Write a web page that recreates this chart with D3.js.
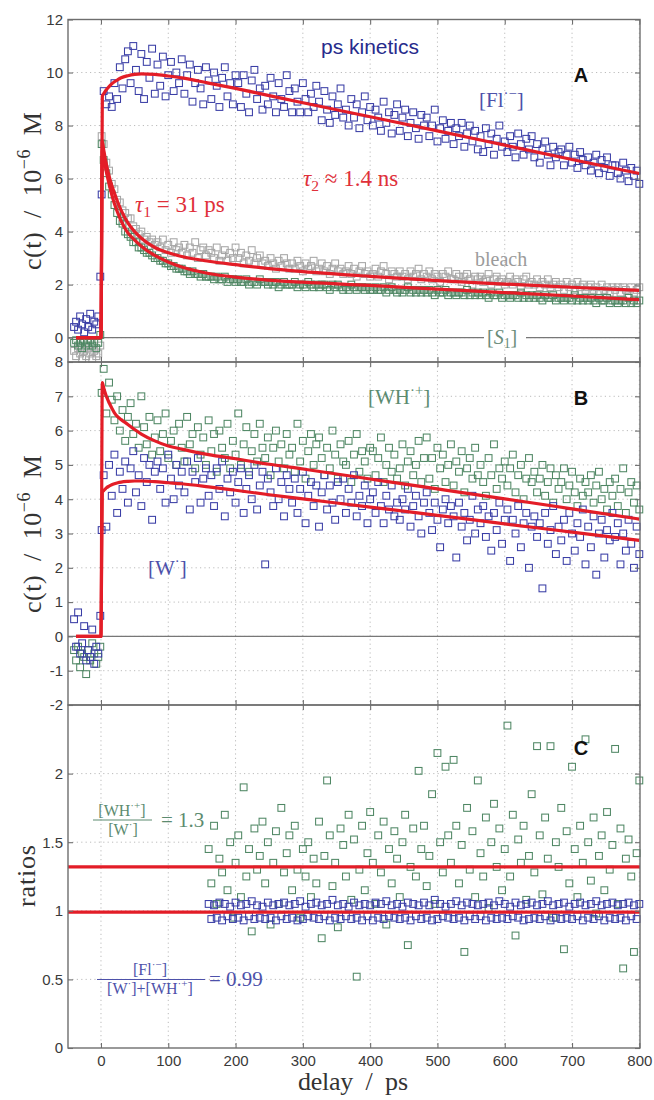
<!DOCTYPE html>
<html><head><meta charset="utf-8">
<script src="https://cdn.jsdelivr.net/npm/d3@7"></script>
<style>body{margin:0;background:#fff} text{white-space:pre}</style>
</head><body><svg id="c" width="654" height="1100" xmlns="http://www.w3.org/2000/svg"></svg>
<script>
// ---------------- data ----------------
const delays = [-40,-37,-34,-31,-28,-25,-22,-19,-16,-13,-10,-7,-4,-1,1,
4,8,12,16,20,24,28,32,36,40,
44,48,52,56,60,64,68,72,76,80,
84,88,92,96,100,104,108,112,116,120,
124,128,132,136,140,144,148,152,156,160,
164,168,172,176,180,184,188,192,196,200,
204,208,212,216,220,224,228,232,236,240,
244,248,252,256,260,264,268,272,276,280,
284,288,292,296,300,304,308,312,316,320,
324,328,332,336,340,344,348,352,356,360,
364,368,372,376,380,384,388,392,396,400,
404,408,412,416,420,424,428,432,436,440,
444,448,452,456,460,464,468,472,476,480,
484,488,492,496,500,504,508,512,516,520,
524,528,532,536,540,544,548,552,556,560,
564,568,572,576,580,584,588,592,596,600,
604,608,612,616,620,624,628,632,636,640,
644,648,652,656,660,664,668,672,676,680,
684,688,692,696,700,704,708,712,716,720,
724,728,732,736,740,744,748,752,756,760,
764,768,772,776,780,784,788,792,796,800];

// Panel A: [Fl.-] (blue), bleach (gray), [S1] (green)
const flData = [0.4,0.6,0.3,0.8,0.5,0.2,0.7,0.4,0.9,0.3,0.6,0.5,0.8,2.3,5.4,
9.3,8.8,9.1,8.7,9.6,9.0,10.2,9.4,10.5,10.8,
9.6,11.0,10.1,9.3,10.7,9.0,10.4,9.8,10.9,9.2,
10.3,9.5,10.6,9.1,9.9,10.4,9.3,10.0,9.6,10.5,
9.2,9.9,10.3,8.9,9.6,10.1,9.4,8.8,10.2,9.7,
9.0,10.0,9.5,8.7,9.8,10.2,9.1,9.6,8.8,9.9,
9.6,8.7,9.9,9.2,8.5,9.7,10.1,9.0,9.4,8.6,
9.5,8.8,9.8,9.1,8.5,9.6,9.0,8.7,9.9,9.3,
8.5,9.4,8.9,8.5,9.6,9.0,8.5,9.2,8.7,9.5,
8.9,8.2,9.3,8.6,8.1,9.1,8.4,8.8,9.4,8.3,
8.6,8.0,9.0,8.3,8.8,7.9,8.5,9.1,8.2,8.7,
8.0,8.6,8.3,7.8,8.9,8.1,8.5,7.7,8.4,8.8,
7.8,8.3,8.6,7.6,8.1,8.5,7.9,7.5,8.4,8.0,
8.3,7.6,8.0,8.6,7.4,7.9,8.2,7.5,7.8,8.1,
7.3,7.9,7.6,8.1,7.2,7.7,8.0,7.4,7.8,7.1,
7.6,7.0,7.9,7.3,7.7,6.9,7.5,8.0,7.2,7.4,
7.0,7.6,7.2,6.8,7.7,7.3,6.9,7.5,7.1,7.6,
6.8,7.3,6.6,7.1,7.4,6.9,6.5,7.2,6.8,7.0,
7.1,6.5,6.9,7.2,6.6,6.9,6.4,7.0,6.7,6.5,
6.8,6.3,6.6,6.9,6.2,6.7,6.4,6.8,6.1,6.5,
6.5,6.2,6.0,6.6,6.3,5.9,6.4,6.1,6.3,5.8];

const bleachData = [-0.5,-0.7,-0.4,-0.6,-0.8,-0.5,-0.7,-0.4,-0.6,-0.8,-0.5,-0.7,-0.6,-0.3,7.6,
7.3,6.6,6.3,5.8,5.6,5.2,5.1,4.8,4.7,4.5,
4.5,4.2,4.1,3.9,4.0,3.7,3.8,3.6,3.7,3.5,
3.6,3.4,3.7,3.3,3.5,3.2,3.6,3.3,3.4,3.2,
3.5,3.1,3.4,3.2,3.6,3.0,3.3,3.4,3.1,3.3,
3.2,3.0,3.4,2.9,3.1,3.3,2.9,3.2,3.0,3.4,
3.0,3.2,2.8,3.1,2.9,3.3,2.8,3.0,3.1,2.8,
2.9,2.7,3.0,2.8,2.6,2.9,2.7,3.0,2.8,2.6,
2.8,2.6,2.9,2.7,2.5,2.8,2.6,2.7,2.9,2.5,
2.6,2.8,2.5,2.7,2.4,2.6,2.8,2.5,2.6,2.4,
2.5,2.7,2.4,2.6,2.3,2.5,2.7,2.4,2.5,2.3,
2.4,2.6,2.3,2.5,2.7,2.4,2.2,2.5,2.4,2.3,
2.5,2.3,2.4,2.2,2.5,2.3,2.4,2.6,2.2,2.4,
2.3,2.5,2.2,2.4,2.3,2.1,2.4,2.3,2.5,2.2,
2.2,2.4,2.3,2.1,2.3,2.4,2.2,2.0,2.3,2.2,
2.3,2.1,2.2,2.4,2.0,2.2,2.3,2.1,2.2,2.0,
2.1,2.3,2.0,2.2,2.1,1.9,2.2,2.3,2.0,2.1,
2.0,2.2,1.9,2.1,2.0,2.2,1.9,2.0,2.1,1.9,
2.0,1.8,2.1,1.9,2.0,1.8,2.1,1.9,2.0,1.8,
1.9,2.0,1.8,1.9,1.7,2.0,1.8,1.9,1.7,1.9,
1.8,1.9,1.7,1.9,1.8,1.6,1.9,1.7,1.8,1.9];

const s1Data = [-0.2,-0.1,-0.3,-0.2,-0.4,-0.1,-0.3,-0.2,-0.1,-0.3,-0.2,-0.4,-0.2,0.1,7.3,
6.7,6.2,5.7,5.4,5.0,4.7,4.4,4.3,4.0,3.9,
3.8,3.6,3.6,3.4,3.4,3.3,3.2,3.2,3.1,3.0,
3.0,2.9,2.9,2.8,2.8,2.7,2.7,2.6,2.6,2.6,
2.5,2.5,2.4,2.5,2.4,2.4,2.3,2.4,2.3,2.3,
2.3,2.2,2.3,2.2,2.2,2.3,2.1,2.2,2.2,2.1,
2.2,2.1,2.1,2.2,2.0,2.1,2.1,2.0,2.2,2.1,
2.1,2.0,2.1,2.0,2.1,1.9,2.0,2.1,2.0,2.0,
2.0,2.1,1.9,2.0,2.0,1.9,2.1,2.0,1.9,2.0,
1.9,2.0,2.0,1.9,1.8,2.0,1.9,2.0,1.9,1.8,
1.9,1.8,2.0,1.9,1.8,1.9,1.9,1.8,1.9,1.8,
1.8,1.9,1.8,1.8,1.9,1.7,1.8,1.9,1.8,1.7,
1.8,1.7,1.8,1.9,1.7,1.8,1.7,1.8,1.7,1.8,
1.7,1.8,1.7,1.6,1.8,1.7,1.7,1.8,1.6,1.7,
1.7,1.6,1.7,1.7,1.6,1.8,1.6,1.7,1.6,1.7,
1.6,1.7,1.6,1.5,1.7,1.6,1.6,1.7,1.5,1.6,
1.6,1.5,1.6,1.6,1.5,1.7,1.5,1.6,1.5,1.6,
1.5,1.6,1.5,1.4,1.6,1.5,1.5,1.6,1.4,1.5,
1.5,1.4,1.5,1.5,1.4,1.6,1.4,1.5,1.4,1.5,
1.4,1.5,1.4,1.3,1.5,1.4,1.4,1.5,1.3,1.4,
1.4,1.3,1.4,1.4,1.3,1.5,1.3,1.4,1.3,1.4];

// Panel B: [WH.+] (green), [W.] (blue)
const whData = [-0.4,-0.7,-0.3,-0.9,-0.5,-0.6,-1.1,-0.4,-0.7,-0.2,-0.5,-0.8,-0.6,-0.3,7.1,
7.8,6.5,7.4,6.9,6.3,7.0,6.0,6.6,5.7,6.4,
6.8,5.9,6.2,5.5,7.0,6.1,5.6,6.4,5.3,5.8,
6.3,5.4,5.9,6.5,5.2,5.7,6.0,5.0,6.2,5.5,
5.1,6.4,5.6,5.9,4.9,6.1,5.3,5.8,5.0,6.3,
5.4,5.9,4.8,6.0,5.5,5.2,6.2,4.9,5.7,5.3,
6.5,5.0,5.6,6.1,4.8,5.4,5.9,5.1,6.2,5.5,
5.2,5.8,4.7,5.5,6.0,5.1,5.6,4.9,5.9,5.3,
5.5,4.8,6.2,5.1,5.7,4.6,5.4,5.9,5.0,5.6,
5.8,5.2,4.7,5.5,4.9,6.0,5.3,4.6,5.6,5.1,
5.0,5.7,4.5,5.3,5.9,4.8,5.4,5.1,4.6,5.5,
5.4,4.7,5.2,5.8,4.5,5.0,5.5,4.8,5.3,4.6,
4.9,5.6,4.4,5.1,5.4,4.7,5.0,5.7,4.5,5.2,
5.8,4.6,5.2,4.3,5.5,4.9,5.3,4.5,5.0,5.6,
4.4,5.1,4.8,5.4,4.2,4.9,5.2,4.6,5.5,4.7,
5.0,4.5,4.1,5.2,4.7,5.6,4.3,4.9,4.6,5.1,
4.4,4.9,5.3,4.2,4.7,5.0,4.0,4.6,5.2,4.5,
4.8,4.2,4.6,5.0,4.1,4.5,4.9,3.9,4.7,4.3,
4.5,4.9,4.0,4.4,4.8,4.2,3.8,4.6,4.1,4.5,
4.2,4.7,3.9,4.4,4.8,4.0,4.3,3.7,4.5,4.1,
4.6,3.8,4.3,4.9,3.6,4.2,4.5,3.9,4.4,3.7];

const wData = [0.5,-0.3,0.7,-0.5,-0.2,0.3,-0.7,-0.4,-0.6,0.2,-0.8,-0.3,-0.5,0.6,3.1,
4.7,3.2,5.0,4.1,5.3,3.6,4.8,4.3,5.1,3.9,
4.9,5.4,4.2,4.7,3.8,5.2,4.5,5.0,3.4,4.8,
5.1,4.3,4.9,3.9,5.3,4.6,4.0,5.0,4.4,4.8,
4.2,5.1,3.7,4.8,4.5,5.2,3.9,4.6,4.9,4.1,
4.7,3.8,4.9,4.3,5.1,3.5,4.6,4.2,4.8,3.9,
4.5,4.9,3.6,4.3,4.7,4.0,5.0,3.7,4.4,4.8,
2.1,4.6,4.2,3.8,4.9,4.0,4.5,3.5,4.7,4.3,
3.9,4.6,3.6,4.3,4.8,3.3,4.1,4.5,3.8,4.4,
3.2,4.2,4.7,3.7,4.4,3.9,3.4,4.5,4.0,4.6,
3.6,4.3,3.9,4.7,3.5,4.1,3.8,4.4,3.3,4.0,
4.2,3.6,4.5,3.8,3.3,4.1,3.7,4.4,3.5,3.9,
3.4,4.0,3.7,4.3,3.2,3.8,4.1,3.5,3.0,3.9,
4.2,3.6,3.1,3.9,3.4,2.6,3.7,4.0,3.3,3.8,
3.5,2.3,3.9,3.2,3.6,2.8,3.4,4.1,3.0,3.7,
3.3,3.8,2.9,3.5,2.5,3.6,3.1,3.9,2.7,3.4,
3.7,2.2,3.4,3.0,3.8,2.6,3.3,3.6,2.0,3.2,
3.5,2.9,3.3,1.4,3.6,2.7,3.1,3.8,2.4,3.2,
2.8,3.4,2.2,3.6,3.0,2.5,3.3,2.9,3.7,2.1,
3.2,2.6,3.5,1.8,3.0,3.4,2.3,3.1,2.8,3.6,
2.9,3.3,2.1,3.0,2.5,3.4,2.7,2.0,3.2,2.4];

// Panel C: ratios, for delays >= 160 ps
const ratioStart = 160;
const ratioWHW = [1.45,1.2,1.62,1.05,1.38,1.28,1.7,1.15,1.5,0.95,
1.35,1.55,1.1,1.9,1.25,1.45,0.85,1.6,1.3,1.4,
1.65,1.2,1.5,0.9,1.35,1.58,1.05,1.75,1.28,1.42,
1.55,1.15,1.62,1.3,0.95,1.45,1.25,1.5,1.1,1.38,
1.2,1.65,0.8,1.4,1.95,1.55,1.18,1.35,0.88,1.6,
1.48,1.25,1.7,1.08,1.52,0.52,1.3,1.62,1.15,1.42,
1.72,1.35,1.05,1.55,1.28,1.65,0.9,1.45,1.2,1.58,
1.38,1.1,1.5,1.7,0.75,1.32,1.6,1.25,2.02,1.45,
1.62,1.18,1.4,1.85,1.05,2.15,1.5,1.28,2.05,1.55,
1.35,2.1,1.62,1.2,1.48,0.7,1.75,1.3,1.58,1.1,
1.95,1.42,1.25,1.68,1.02,1.5,1.78,1.32,1.6,1.15,
1.45,2.35,1.25,1.7,0.82,1.52,1.35,1.62,1.08,1.4,
1.85,1.28,2.2,1.55,1.12,1.68,1.38,2.2,0.95,1.5,
1.32,1.75,0.72,1.58,1.2,2.05,1.45,1.1,1.62,1.35,
2.25,1.5,1.22,1.68,0.98,1.4,1.55,1.15,1.72,1.3,
1.48,2.18,1.05,1.6,0.58,1.38,1.52,1.25,0.7,1.42,
1.95];
const ratioFl = [1.05,0.94,1.04,0.95,1.06,0.93,1.05,0.96,1.03,0.94,
1.06,0.95,1.04,0.93,1.05,0.96,1.07,0.94,1.04,0.95,
1.03,0.94,1.06,0.95,1.04,0.93,1.05,0.96,1.06,0.94,
1.04,0.95,1.05,0.93,1.07,0.94,1.03,0.96,1.05,0.95,
1.06,0.94,1.04,0.96,1.05,0.93,1.08,0.95,1.04,0.94,
1.05,0.96,1.03,0.94,1.06,0.95,1.04,0.93,1.05,0.96,
1.04,0.93,1.06,0.95,1.05,0.94,1.07,0.96,1.04,0.95,
1.05,0.94,1.03,0.95,1.06,0.93,1.05,0.96,1.04,0.94,
1.06,0.95,1.04,0.93,1.08,0.94,1.05,0.96,1.03,0.95,
1.05,0.94,1.07,0.95,1.04,0.93,1.06,0.96,1.05,0.94,
1.04,0.96,1.05,0.93,1.06,0.95,1.04,0.94,1.07,0.95,
1.05,0.94,1.03,0.96,1.06,0.95,1.04,0.93,1.05,0.94,
1.06,0.95,1.04,0.94,1.05,0.96,1.07,0.93,1.04,0.95,
1.05,0.94,1.06,0.95,1.03,0.94,1.05,0.96,1.06,0.93,
1.04,0.95,1.05,0.94,1.07,0.96,1.04,0.93,1.05,0.95,
1.06,0.94,1.04,0.95,1.05,0.93,1.06,0.96,1.04,0.94,
1.05];

// fitted model curves
const fitDelays = [-37,0,2,4,6,8,12,16,20,25,30,40,50,60,80,100,120,160,200,250,300,400,500,600,700,800];
const flFit     = [0,0,9.1,9.2,9.28,9.35,9.47,9.57,9.65,9.73,9.8,9.88,9.93,9.95,9.93,9.87,9.8,9.6,9.4,9.13,8.86,8.33,7.8,7.26,6.72,6.19];
const bleachFit = [0,0,7.4,7.1,6.8,6.55,6.1,5.75,5.45,5.1,4.8,4.33,4.0,3.75,3.4,3.2,3.06,2.88,2.75,2.6,2.49,2.31,2.15,2.02,1.9,1.78];
const s1Fit     = [0,0,7.1,6.75,6.5,6.25,5.8,5.4,5.05,4.7,4.4,3.95,3.68,3.45,3.1,2.85,2.66,2.42,2.28,2.17,2.09,1.97,1.83,1.7,1.57,1.43];
const whFit     = [0,0,7.4,7.25,7.12,7.0,6.82,6.66,6.52,6.4,6.32,6.18,6.03,5.9,5.7,5.55,5.46,5.3,5.18,5.02,4.88,4.59,4.3,4.01,3.72,3.42];
const wFit      = [0,0,4.2,4.25,4.29,4.33,4.38,4.42,4.45,4.48,4.5,4.52,4.53,4.53,4.51,4.48,4.45,4.36,4.26,4.13,4.01,3.77,3.53,3.28,3.04,2.8];
const ratioLevels = [1.32, 0.99];

// ticks
const xTicks = [0,100,200,300,400,500,600,700,800];
const yTicksA = [0,2,4,6,8,10,12];
const yTicksB = [-2,-1,0,1,2,3,4,5,6,7,8];
const yTicksC = [0,0.5,1,1.5,2];

// ---------------- drawing ----------------
const C = {
  blue: "#3a3ea6", green: "#4f8764", gray: "#a6a6a6", red: "#e31d27",
  frame: "#6e6e6e", grid: "#b4b4b4",
  tBlue: "#4d51aa", tNavy: "#272b8c", tGreen: "#5c8b70", tRed: "#e0303a", tGray: "#9b9b9b", tS1: "#6a8c7a"
};
const SERIF = "'Liberation Serif','DejaVu Serif',serif";
const SANS = "'Liberation Sans',Arial,sans-serif";

const svg = d3.select("#c");
svg.append("rect").attr("width",654).attr("height",1100).attr("fill","#fff");

const X0 = 68, X1 = 640;
const x = d3.scaleLinear().domain([-49, 801]).range([X0, X1]);
const yA = d3.scaleLinear().domain([-0.92, 12]).range([362, 19.5]);
const yB = d3.scaleLinear().domain([-2, 8]).range([705, 362]);
const yC = d3.scaleLinear().domain([0, 2.5]).range([1048, 705]);

function panel(y, yTicks, showX, zeroLine) {
  const g = svg.append("g");
  const [b, t] = y.range();
  g.selectAll(null).data(xTicks).join("line")
    .attr("x1", d => x(d)).attr("x2", d => x(d)).attr("y1", t).attr("y2", b)
    .attr("stroke", C.grid).attr("stroke-width", 0.9).attr("stroke-dasharray", "1.2,3.2");
  g.selectAll(null).data(yTicks.filter(v => y(v) > t + 1 && y(v) < b - 1)).join("line")
    .attr("x1", X0).attr("x2", X1).attr("y1", d => y(d)).attr("y2", d => y(d))
    .attr("stroke", C.grid).attr("stroke-width", 0.9).attr("stroke-dasharray", "1.2,3.2");
  if (zeroLine) {
    g.append("line").attr("x1", X0).attr("x2", X1).attr("y1", y(0)).attr("y2", y(0))
      .attr("stroke", "#777").attr("stroke-width", 1.2);
  }
  return g;
}

function axes(y, yTicks, showX) {
  const [b, t] = y.range();
  const g = svg.append("g");
  const fmt = d => String(d);
  const styleAx = sel => {
    sel.select(".domain").remove();
    sel.selectAll(".tick line").attr("stroke", C.frame).attr("stroke-width", 1.1);
    sel.selectAll("text").attr("font-family", SANS).attr("font-size", 15).attr("fill", "#3a3a3a");
  };
  g.append("g").attr("transform", `translate(${X0},0)`)
    .call(d3.axisLeft(y).tickValues(yTicks).tickSize(-5).tickPadding(5).tickFormat(fmt)).call(styleAx);
  g.append("g").attr("transform", `translate(${X1},0)`)
    .call(d3.axisRight(y).tickValues(yTicks).tickSize(-5).tickFormat("")).call(styleAx);
  g.append("g").attr("transform", `translate(0,${t})`)
    .call(d3.axisTop(x).tickValues(xTicks).tickSize(-5).tickFormat("")).call(styleAx);
  g.append("g").attr("transform", `translate(0,${b})`)
    .call(d3.axisBottom(x).tickValues(xTicks).tickSize(-5).tickPadding(7).tickFormat(showX ? fmt : "")).call(styleAx);
  g.append("rect").attr("x", X0).attr("y", t).attr("width", X1 - X0).attr("height", b - t)
    .attr("fill", "none").attr("stroke", C.frame).attr("stroke-width", 1.4);
}

function squares(g, xs, vals, y, color) {
  const n = Math.min(xs.length, vals.length);
  const pts = d3.range(n).map(i => [xs[i], vals[i]]);
  g.selectAll(null).data(pts).join("rect")
    .attr("x", d => x(d[0]) - 3.4).attr("y", d => y(d[1]) - 3.4)
    .attr("width", 6.8).attr("height", 6.8)
    .attr("fill", "none").attr("stroke", color).attr("stroke-width", 1.05);
}

function fitLine(g, xs, vals, y) {
  const line = d3.line().x(d => x(d[0])).y(d => y(d[1])).curve(d3.curveMonotoneX);
  g.append("path").datum(xs.map((d, i) => [d, vals[i]])).attr("d", line)
    .attr("fill", "none").attr("stroke", C.red).attr("stroke-width", 3.2).attr("stroke-linejoin", "round");
}

function rich(x0, y0, parts, size, color, family, anchor, extra) {
  const t = svg.append("text").attr("x", x0).attr("y", y0).attr("font-size", size)
    .attr("fill", color).attr("font-family", family).attr("text-anchor", anchor || "start");
  let shift = 0;
  parts.forEach(([s, k]) => {
    let fs = size, target = 0;
    if (k === "sup") { fs = size * 0.7; target = -size * 0.42; }
    if (k === "sub") { fs = size * 0.68; target = size * 0.22; }
    const ts = t.append("tspan").text(s).attr("font-size", fs).attr("dy", target - shift);
    if (k === "i" ) ts.attr("font-style", "italic");
    shift = target;
  });
  if (extra) extra(t);
  return t;
}

// Panel A
const gA = panel(yA, yTicksA, false, true);
squares(gA, delays, flData, yA, C.blue);
squares(gA, delays, bleachData, yA, C.gray);
squares(gA, delays, s1Data, yA, C.green);
fitLine(gA, fitDelays, flFit, yA);
fitLine(gA, fitDelays, bleachFit, yA);
fitLine(gA, fitDelays, s1Fit, yA);

// Panel B
const gB = panel(yB, yTicksB, false, true);
squares(gB, delays, whData, yB, C.green);
squares(gB, delays, wData, yB, C.blue);
fitLine(gB, fitDelays, whFit, yB);
fitLine(gB, fitDelays, wFit, yB);

// Panel C
const gC = panel(yC, yTicksC, true, false);
const cDelays = delays.filter(d => d >= ratioStart);
squares(gC, cDelays, ratioWHW, yC, C.green);
squares(gC, cDelays, ratioFl, yC, C.blue);
gC.selectAll(null).data(ratioLevels).join("line")
  .attr("x1", x(-49)).attr("x2", x(801)).attr("y1", d => yC(d)).attr("y2", d => yC(d))
  .attr("stroke", C.red).attr("stroke-width", 3.2);

axes(yA, yTicksA, false);
axes(yB, yTicksB, false);
axes(yC, yTicksC, true);

// ---- annotations ----
rich(370, 54, [["ps kinetics",""]], 21, C.tNavy, SANS, "middle");
rich(581, 82, [["A",""]], 20, "#111", SANS, "middle", t => t.attr("font-weight", "bold"));
rich(479, 107, [["[Fl",""],["·−","sup"],["]",""]], 21, C.tBlue, SERIF);
rich(303, 186, [["τ","i"],["2","sub"],[" ≈ 1.4 ns",""]], 23, C.tRed, SERIF);
rich(135, 212, [["τ","i"],["1","sub"],[" = 31 ps",""]], 23, C.tRed, SERIF);
rich(475, 266, [["bleach",""]], 20, C.tGray, SERIF);
svg.append("rect").attr("x", 484).attr("y", 331).attr("width", 42).attr("height", 14).attr("fill", "#fff");
rich(487, 344, [["[",""],["S","i"],["1","sub"],["]",""]], 20, C.tS1, SERIF);

rich(368, 404, [["[WH",""],["·+","sup"],["]",""]], 21, C.tGreen, SERIF);
rich(581, 405, [["B",""]], 20, "#111", SANS, "middle", t => t.attr("font-weight", "bold"));
rich(148, 575, [["[W",""],["·","sup"],["]",""]], 21, C.tBlue, SERIF);

rich(581, 755, [["C",""]], 20, "#111", SANS, "middle", t => t.attr("font-weight", "bold"));
rich(122, 816, [["[WH",""],["·+","sup"],["]",""]], 16, C.tGreen, SERIF, "middle");
svg.append("line").attr("x1", 93).attr("x2", 152).attr("y1", 820).attr("y2", 820).attr("stroke", C.tGreen).attr("stroke-width", 1);
rich(123, 835, [["[W",""],["·","sup"],["]",""]], 16, C.tGreen, SERIF, "middle");
rich(161, 827, [["= 1.3",""]], 21, C.tGreen, SERIF);
rich(150, 975, [["[Fl",""],["·−","sup"],["]",""]], 16, C.tBlue, SERIF, "middle");
svg.append("line").attr("x1", 97).attr("x2", 205).attr("y1", 979.5).attr("y2", 979.5).attr("stroke", C.tBlue).attr("stroke-width", 1);
rich(150, 994, [["[W",""],["·","sup"],["]+[WH",""],["·+","sup"],["]",""]], 16, C.tBlue, SERIF, "middle");
rich(209, 986, [["= 0.99",""]], 21, C.tBlue, SERIF);

function ylab(cx, cy, parts, len) {
  const g = svg.append("g").attr("transform", `translate(${cx},${cy}) rotate(-90)`);
  const t = g.append("text").attr("text-anchor", "middle").attr("font-family", SERIF)
    .attr("font-size", 26).attr("fill", "#333");
  let shift = 0;
  parts.forEach(([s, k]) => {
    let fs = 26, target = 0;
    if (k === "sup") { fs = 18; target = -11; }
    t.append("tspan").text(s).attr("font-size", fs).attr("dy", target - shift);
    shift = target;
  });
  t.attr("textLength", len).attr("lengthAdjust", "spacing");
}
ylab(41, 191, [["c(t)  /  10",""],["−6","sup"],["  M",""]], 158);
ylab(41, 534, [["c(t)  /  10",""],["−6","sup"],["  M",""]], 158);
ylab(35, 876, [["ratios",""]], 62);
svg.append("text").attr("x", 353).attr("y", 1090).attr("text-anchor", "middle")
  .attr("font-family", SERIF).attr("font-size", 26).attr("fill", "#333")
  .attr("textLength", 110).attr("lengthAdjust", "spacing").text("delay  /  ps");
</script></body></html>
